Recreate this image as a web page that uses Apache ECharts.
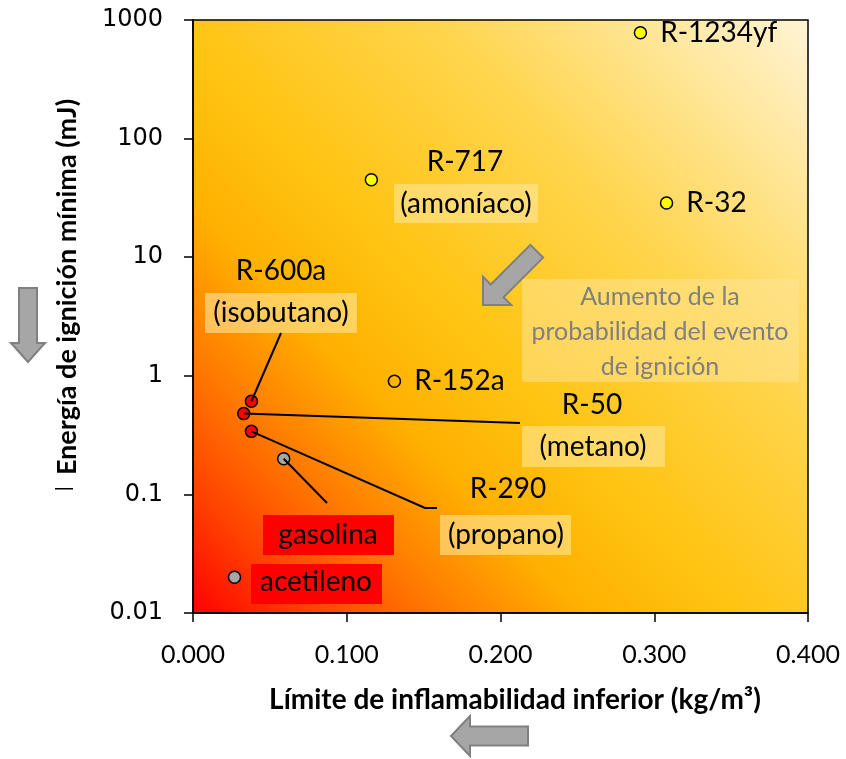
<!DOCTYPE html>
<html>
<head>
<meta charset="utf-8">
<script src="https://cdn.jsdelivr.net/npm/echarts@6/dist/echarts.min.js"></script>
<style>
html,body{margin:0;padding:0;background:#fff;}
#chart{width:846px;height:759px;}
</style>
</head>
<body>
<div id="chart"></div>
<script>
// ---- data ----
const names = ['R-1234yf', 'R-32', 'R-717', 'R-152a', 'R-600a', 'R-50', 'R-290', 'gasolina', 'acetileno'];
const lfl = [0.291, 0.308, 0.116, 0.131, 0.038, 0.033, 0.038, 0.059, 0.027];   // kg/m3
const mie = [780, 28.6, 45, 0.90, 0.61, 0.48, 0.34, 0.20, 0.020];                // mJ
const groups = ['yellow', 'yellow', 'yellow', 'none', 'red', 'red', 'red', 'grey', 'grey'];
const yTickLabels = ['0.01', '0.1', '1', '10', '100', '1000'];
const xTicks = [0, 0.1, 0.2, 0.3, 0.4];

// ---- styles ----
const groupColor = { yellow: '#FFFF00', none: 'rgba(0,0,0,0)', red: '#FF0000', grey: '#A6A6A6' };
const rightLabelled = ['R-1234yf', 'R-32', 'R-152a'];
const LBL_FONT = 'Lato';
const LBL_SIZE = 28;

const chart = echarts.init(document.getElementById('chart'), null, { renderer: 'canvas' });

const seriesData = names.map((n, i) => ({
  name: n,
  value: [lfl[i], mie[i]],
  itemStyle: { color: groupColor[groups[i]] },
  label: { show: rightLabelled.indexOf(n) >= 0 }
}));

const option = {
  animation: false,
  backgroundColor: '#ffffff',
  grid: {
    left: 193, right: 38, top: 20, bottom: 146,
    show: true,
    borderColor: '#000', borderWidth: 1.5,
    backgroundColor: new echarts.graphic.LinearGradient(0, 1, 1, 0, [
      { offset: 0.0, color: '#FF0000' },
      { offset: 0.10, color: '#FF4000' },
      { offset: 0.21, color: '#FF7A00' },
      { offset: 0.33, color: '#FFB000' },
      { offset: 0.46, color: '#FFC412' },
      { offset: 0.68, color: '#FFD54C' },
      { offset: 1.0, color: '#FFF4D6' }
    ])
  },
  xAxis: {
    type: 'value', min: xTicks[0], max: xTicks[xTicks.length - 1], interval: 0.1,
    axisLine: { lineStyle: { color: '#000', width: 1.5 } },
    axisTick: { show: true, length: 9, lineStyle: { color: '#000', width: 1.5 } },
    splitLine: { show: false },
    axisLabel: {
      margin: 29, color: '#000', fontFamily: LBL_FONT, fontSize: 25,
      formatter: v => v.toFixed(3)
    }
  },
  yAxis: {
    type: 'log', logBase: 10, min: 0.01, max: 1000,
    axisLine: { show: true, lineStyle: { color: '#000', width: 1.5 } },
    axisTick: { show: true, length: 9, lineStyle: { color: '#000', width: 1.5 } },
    splitLine: { show: false },
    minorTick: { show: false },
    axisLabel: {
      margin: 30, color: '#000', fontFamily: 'DejaVu Sans', fontSize: 24,
      formatter: v => {
        const k = Math.round(Math.log10(v)) + 2;
        return yTickLabels[k] !== undefined ? yTickLabels[k] : '';
      }
    }
  },
  series: [{
    type: 'scatter',
    symbol: 'circle',
    symbolSize: 12,
    z: 5,
    itemStyle: { borderColor: '#000', borderWidth: 1.5, opacity: 1 },
    label: {
      position: 'right', distance: 13,
      formatter: p => p.name,
      color: '#000', fontFamily: LBL_FONT, fontSize: LBL_SIZE
    },
    data: seriesData
  }]
};
chart.setOption(option);

// ---- annotations (boxes, leader lines, arrows) ----
function px(name) {
  const i = names.indexOf(name);
  return chart.convertToPixel({ gridIndex: 0 }, [lfl[i], mie[i]]);
}
const boxFill = 'rgba(255,230,153,0.6)';
const g = [];
function textAt(t, cx, cy, opts) {
  opts = opts || {};
  g.push({
    type: 'text', x: cx, y: cy, z: 20,
    style: {
      text: t, fill: opts.color || '#000',
      font: (opts.weight || 'normal') + ' ' + (opts.size || LBL_SIZE) + 'px ' + (opts.family || LBL_FONT),
      align: 'center', verticalAlign: 'middle',
      lineHeight: opts.lineHeight
    }
  });
}
function box(x1, y1, x2, y2, fill) {
  g.push({ type: 'rect', z: 15, shape: { x: x1, y: y1, width: x2 - x1, height: y2 - y1 }, style: { fill: fill } });
}
function leader(name, pts) {
  const p = px(name);
  g.push({ type: 'polyline', z: 30, shape: { points: [p].concat(pts) }, style: { stroke: '#000', lineWidth: 2, fill: null } });
}
function arrow(tip, dir, len, headLen, headHW, shaftHW) {
  const d = Math.hypot(dir[0], dir[1]);
  const ux = dir[0] / d, uy = dir[1] / d;      // pointing direction
  const nx = -uy, ny = ux;                      // normal
  const P = (a, b) => [tip[0] - ux * a + nx * b, tip[1] - uy * a + ny * b];
  g.push({
    type: 'polygon', z: 25,
    shape: { points: [P(0, 0), P(headLen, headHW), P(headLen, shaftHW), P(len, shaftHW), P(len, -shaftHW), P(headLen, -shaftHW), P(headLen, -headHW)] },
    style: { fill: '#A6A6A6', stroke: '#808080', lineWidth: 2 }
  });
}

// R-600a (isobutano)
textAt('R-600a', 281, 271);
box(205, 293, 357, 333, boxFill);
textAt('(isobutano)', 281, 313);
leader('R-600a', [[281, 333]]);

// R-717 (amoníaco)
textAt('R-717', 465, 162);
box(394, 184, 538, 223, boxFill);
textAt('(amoníaco)', 466, 204);

// R-50 (metano)
textAt('R-50', 592, 405);
box(522, 426, 665, 467, boxFill);
textAt('(metano)', 593, 447);
leader('R-50', [[520, 423]]);

// R-290 (propano)
textAt('R-290', 508, 489);
box(440, 515, 571, 555, boxFill);
textAt('(propano)', 506, 535);
leader('R-290', [[425, 508], [437, 508]]);

// gasolina
box(263, 515, 394, 555, '#FF0000');
textAt('gasolina', 328, 535);
leader('gasolina', [[327, 503]]);

// acetileno
box(251, 564, 382, 604, '#FF0000');
textAt('acetileno', 316, 582);

// probability note
box(522, 279, 799, 382, 'rgba(255,230,153,0.5)');
textAt('Aumento de la\nprobabilidad del evento\nde ignición', 660, 332, { color: '#7F7F7F', size: 25, lineHeight: 35 });

// arrows
arrow([483, 305], [-1, 1], 76, 20, 20, 9);
arrow([28, 362], [0, 1], 74, 19, 17, 9);
arrow([451, 736], [-1, 0], 77, 19, 20, 9.5);

// axis titles
textAt('Límite de inflamabilidad inferior (kg/m³)', 515, 700, { weight: 'bold', size: 28 });
g.push({
  type: 'text', x: 67, y: 287, rotation: Math.PI / 2, z: 20,
  style: { text: 'Energía de ignición mínima (mJ)', fill: '#000', font: 'bold 27px ' + LBL_FONT, align: 'center', verticalAlign: 'middle' }
});
// small stray dash near y-axis title
g.push({ type: 'rect', z: 20, shape: { x: 55, y: 488, width: 18, height: 1.5 }, style: { fill: '#000' } });

chart.setOption({ graphic: g });
</script>
</body>
</html>
